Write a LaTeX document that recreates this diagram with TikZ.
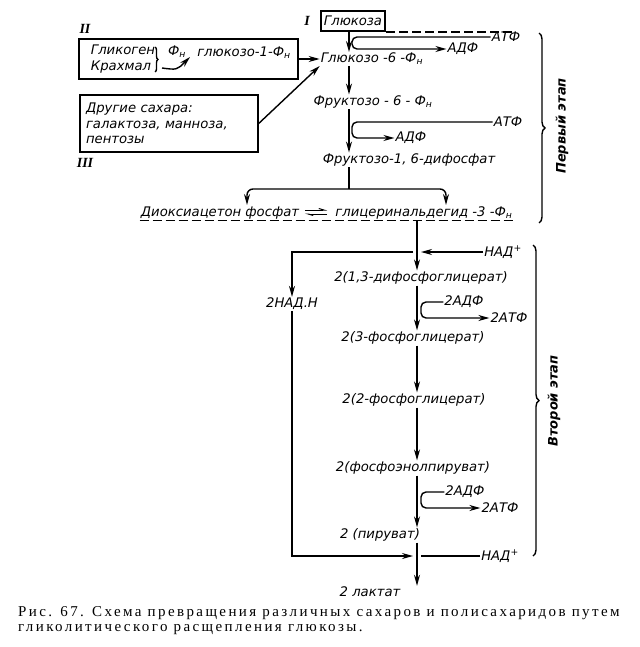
\documentclass[tikz,border=0pt]{standalone}
\usepackage{fontspec}
\setmainfont{Liberation Serif}
\newfontfamily\labfont{DejaVu Sans}
\newfontfamily\capfont[LetterSpace=16]{Liberation Serif}
\usetikzlibrary{arrows.meta,decorations.pathreplacing}

\begin{document}
\begin{tikzpicture}[x=1pt,y=-1pt,
    lbl/.style={font=\labfont\itshape\fontsize{13.2}{15.5}\selectfont, inner sep=1pt},
    roman/.style={font=\itshape\bfseries\fontsize{14}{16}\selectfont, inner sep=1pt},
    ln/.style={line width=1.4pt},
    arr/.style={ln, -{Stealth[length=11pt,width=6pt]}},
    harp/.style={line width=1pt, -{Straight Barb[left, length=5pt, width=3pt]}},
    dashline/.style={ln, dash pattern=on 9pt off 4pt},
    stagebrace/.style={ln, decorate, decoration={brace, amplitude=6pt}},
    capline/.style={anchor=west, font=\capfont\fontsize{15}{17}\selectfont, inner sep=0pt}]
\useasboundingbox (0,0) rectangle (639,647);

% main lines
\coordinate (mainA) at (349,0);
\coordinate (mainB) at (417,0);
\coordinate (mainBl) at (413,0);
\coordinate (mainBr) at (421,0);

% first stage
\node[roman] (rI) at (307,21) {I};
\node[lbl, draw, ln, minimum height=20pt, inner xsep=3pt] (glc) at (353,21) {Глюкоза};
\node[lbl] (g6p) at (372,59) {Глюкозо -6 -Ф\textsubscript{н}};
\node[lbl] (atp1) at (506,37) {АТФ};
\node[lbl] (adp1) at (463,49) {АДФ};
\node[lbl] (f6p) at (373,102) {Фруктозо - 6 - Ф\textsubscript{н}};
\node[lbl] (atp2) at (508,122) {АТФ};
\node[lbl] (adp2) at (411,138) {АДФ};
\node[lbl] (fbp) at (409,160) {Фруктозо-1, 6-дифосфат};
\node[lbl] (dhap) at (220,213) {Диоксиацетон фосфат};
\node[minimum width=22pt, inner sep=0pt] (eq) at (316,212.5) {};
\node[lbl] (gap) at (424,213) {глицеринальдегид -3 -Ф\textsubscript{н}};
\coordinate (split) at (349,189);
\coordinate (dhapin) at (247,205);
\coordinate (gapin) at (446,205);

\draw[arr] (glc.south -| mainA) -- (g6p.north -| mainA);
\draw[arr, rounded corners=5pt] (atp1.west) -- (352,37) -- (352,49) -- (adp1.west);
\draw[arr] (g6p.south -| mainA) -- (f6p.north -| mainA);
\draw[arr, rounded corners=5pt] (atp2.west) -- (352,122) -- (352,138) -- (adp2.west);
\draw[arr] (f6p.south -| mainA) -- (fbp.north -| mainA);
\draw[ln] (fbp.south -| mainA) -- (split);
\draw[arr, rounded corners=6pt] (split) -| (dhapin);
\draw[arr, rounded corners=6pt] (split) -| (gapin);
\draw[harp] ([yshift=2.5pt]eq.west) -- ([yshift=2.5pt]eq.east);
\draw[harp] ([yshift=-1.5pt]eq.east) -- ([yshift=-1.5pt]eq.west);
\draw[dashline] (386,32) -- (514,32);
\draw[dashline] (dhap.south west) -- (dhap.south west -| gap.east);
\draw[stagebrace] (539,33) -- (539,223);
\node[lbl, font=\labfont\itshape\bfseries\fontsize{13}{15}\selectfont, rotate=90] (stage1) at (562,126) {Первый этап};

% other sugars
\node[roman] (rII) at (85,29) {II};
\node[draw, ln, minimum width=219pt, minimum height=40pt] (box2) at (188.5,59) {};
\node[lbl, align=left] (glyc) at (123,59) {Гликоген\\Крахмал};
\draw[ln, decorate, decoration={brace, amplitude=3pt}] (155,47) -- (155,72);
\coordinate (brtip) at (162,68);
\coordinate (g1pin) at (190,57);
\node[lbl] (phn) at (177,52) {Ф\textsubscript{н}};
\node[lbl] (g1p) at (244,53) {глюкозо-1-Ф\textsubscript{н}};
\draw[arr] (brtip) .. controls (177,70) .. (g1pin);
\draw[arr] (box2.east) -- (g6p.west);
\node[lbl, draw, ln, align=left, text width=166pt, inner sep=6pt, minimum height=57pt] (box3) at (169,123.5) {Другие сахара:\\галактоза, манноза,\\пентозы};
\node[roman] (rIII) at (85,163) {III};
\draw[arr] (box3.east) -- (g6p.south west);

% second stage
\node[lbl] (nad1) at (503,252) {НАД\textsuperscript{+}};
\node[lbl] (bpg) at (421,278) {2(1,3-дифосфоглицерат)};
\node[lbl] (nadh) at (292,304) {2НАД.Н};
\node[lbl] (adp3) at (464,302) {2АДФ};
\node[lbl] (atp3) at (509,318) {2АТФ};
\node[lbl] (pg3) at (413,338) {2(3-фосфоглицерат)};
\node[lbl] (pg2) at (414,400) {2(2-фосфоглицерат)};
\node[lbl] (pep) at (413,468) {2(фосфоэнолпируват)};
\node[lbl] (adp4) at (465,492) {2АДФ};
\node[lbl] (atp4) at (500,508) {2АТФ};
\node[lbl] (pyr) at (380,535) {2 (пируват)};
\node[lbl] (nad2) at (500,556) {НАД\textsuperscript{+}};
\node[lbl] (lac) at (370,592) {2 лактат};

\draw[arr] (gap.south -| mainB) -- (bpg.north -| mainB);
\draw[arr] (nad1.west) -- (nad1.west -| mainBr);
\draw[arr] (nad1.west -| mainBl) -| (nadh.north);
\draw[arr] (nadh.south) |- (nad2.west -| mainBl);
\draw[ln] (nad2.west) -- (nad2.west -| mainBr);
\draw[arr, rounded corners=5pt] (adp3.west) -- (adp3.west -| mainBr) -- (atp3.west -| mainBr) -- (atp3.west);
\draw[arr] (bpg.south -| mainB) -- (pg3.north -| mainB);
\draw[arr] (pg3.south -| mainB) -- (pg2.north -| mainB);
\draw[arr] (pg2.south -| mainB) -- (pep.north -| mainB);
\draw[arr, rounded corners=5pt] (adp4.west) -- (adp4.west -| mainBr) -- (atp4.west -| mainBr) -- (atp4.west);
\draw[arr] (pep.south -| mainB) -- (pyr.north -| mainB);
\draw[arr] (pyr.south -| mainB) -- (lac.north -| mainB);
\draw[stagebrace] (533,245) -- (533,556);
\node[lbl, font=\labfont\itshape\bfseries\fontsize{13}{15}\selectfont, rotate=90] (stage2) at (554,401) {Второй этап};

% caption
\node[capline] (cap1) at (18,613) {Рис. 67. Схема превращения различных сахаров и полисахаридов путем};
\node[capline] (cap2) at (18,630) {гликолитического расщепления глюкозы.};
\end{tikzpicture}
\end{document}
